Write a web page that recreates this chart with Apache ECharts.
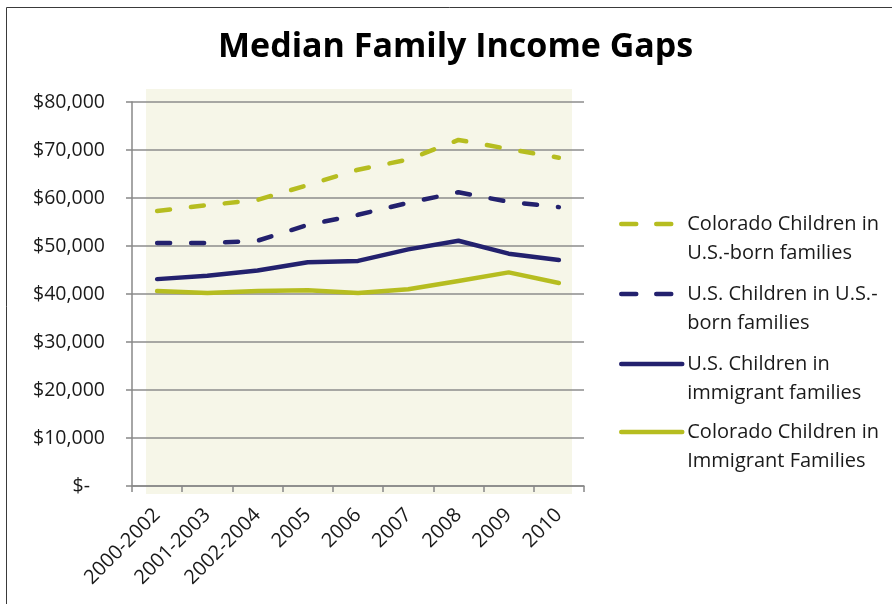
<!DOCTYPE html>
<html>
<head>
<meta charset="utf-8">
<script src="https://cdn.jsdelivr.net/npm/echarts@6/dist/echarts.min.js"></script>
<style>
  html, body { margin: 0; padding: 0; background: #ffffff; }
  #chart { width: 892px; height: 604px; }
</style>
</head>
<body>
<div id="chart"></div>
<script>
// Category labels along the x axis
const periods = ['2000-2002', '2001-2003', '2002-2004', '2005', '2006', '2007', '2008', '2009', '2010'];

// Median family income, in dollars
const coloradoUSBorn = [57300, 58500, 59600, 62700, 65900, 68000, 72100, 70200, 68400];
const usUSBorn = [50600, 50600, 51100, 54400, 56500, 59000, 61200, 59200, 58100];
const usImmigrant = [43100, 43800, 44900, 46600, 46900, 49300, 51100, 48400, 47100];
const coloradoImmigrant = [40600, 40200, 40600, 40800, 40200, 41000, 42700, 44500, 42300];

const seriesNames = [
  'Colorado Children in\nU.S.-born families',
  'U.S. Children in U.S.-\nborn families',
  'U.S. Children in\nimmigrant families',
  'Colorado Children in\nImmigrant Families'
];

const GREEN = '#B6BD20';
const NAVY = '#23216E';
const FONT = '"Open Sans", sans-serif';
const DASH = [13, 21];

function fmtDollar(v) {
  if (v === 0) return '{z|$-}';
  return '$' + v.toLocaleString('en-US');
}

function lineSeries(name, data, color, dashed) {
  return {
    name: name,
    type: 'line',
    data: data,
    symbol: 'none',
    color: color,
    lineStyle: {
      color: color,
      width: 4.5,
      type: dashed ? DASH : 'solid',
      cap: 'round',
      join: 'round'
    },
    z: 3
  };
}

// One legend block per series; the leading blank line keeps the
// key line level with the first line of its two-line caption.
function legendFor(name, top, dashed) {
  return {
    data: [name],
    orient: 'vertical',
    left: 619,
    top: top,
    padding: 0,
    itemWidth: 61,
    itemHeight: 10,
    selectedMode: false,
    formatter: function (n) { return '\n' + n; },
    itemStyle: { opacity: 0 },
    lineStyle: { type: dashed ? [15, 20] : 'solid', width: 4.5, cap: 'round', opacity: 1 },
    textStyle: {
      fontFamily: FONT,
      fontSize: 20,
      color: '#1a1a1a',
      lineHeight: 29
    }
  };
}

const chart = echarts.init(document.getElementById('chart'));

chart.setOption({
  backgroundColor: '#ffffff',
  animation: false,
  title: {
    text: 'Median Family Income Gaps',
    left: 218,
    top: 30,
    padding: 0,
    textStyle: {
      fontFamily: FONT,
      fontSize: 34,
      fontWeight: 'bold',
      color: '#000000'
    }
  },
  graphic: [
    {
      type: 'rect',
      z: -20,
      silent: true,
      shape: { x: 6.5, y: 7.5, width: 900, height: 700 },
      style: { fill: '#ffffff', stroke: '#3a3a3a', lineWidth: 1 }
    },
    {
      type: 'rect',
      z: -10,
      silent: true,
      shape: { x: 146, y: 89, width: 426, height: 405 },
      style: { fill: '#F6F6E8' }
    }
  ],
  legend: [
    legendFor(seriesNames[0], 180.5, true),
    legendFor(seriesNames[1], 250.5, true),
    legendFor(seriesNames[2], 320.5, false),
    legendFor(seriesNames[3], 388.5, false)
  ],
  grid: {
    left: 132,
    right: 308,
    top: 102,
    bottom: 118,
    containLabel: false
  },
  xAxis: {
    type: 'category',
    data: periods,
    boundaryGap: true,
    axisLine: { lineStyle: { color: '#888888', width: 1.5 } },
    axisTick: { show: true, length: 6, alignWithLabel: false, lineStyle: { color: '#888888', width: 1.5 } },
    axisLabel: {
      rotate: 45,
      margin: 26,
      interval: 0,
      fontFamily: FONT,
      fontSize: 20,
      color: '#1a1a1a'
    },
    splitLine: { show: false }
  },
  yAxis: {
    type: 'value',
    min: 0,
    max: 80000,
    interval: 10000,
    axisLine: { show: true, lineStyle: { color: '#888888', width: 1.5 } },
    axisTick: { show: true, length: 6, lineStyle: { color: '#888888', width: 1.5 } },
    axisLabel: {
      margin: 27,
      fontFamily: FONT,
      fontSize: 19.5,
      color: '#1a1a1a',
      formatter: fmtDollar,
      rich: {
        z: { fontFamily: FONT, fontSize: 19.5, color: '#1a1a1a', padding: [0, 15, 0, 0] }
      }
    },
    splitLine: { show: true, lineStyle: { color: '#8c8c8c', width: 1.5 } }
  },
  series: [
    lineSeries(seriesNames[0], coloradoUSBorn, GREEN, true),
    lineSeries(seriesNames[1], usUSBorn, NAVY, true),
    lineSeries(seriesNames[2], usImmigrant, NAVY, false),
    lineSeries(seriesNames[3], coloradoImmigrant, GREEN, false)
  ]
});
</script>
</body>
</html>
